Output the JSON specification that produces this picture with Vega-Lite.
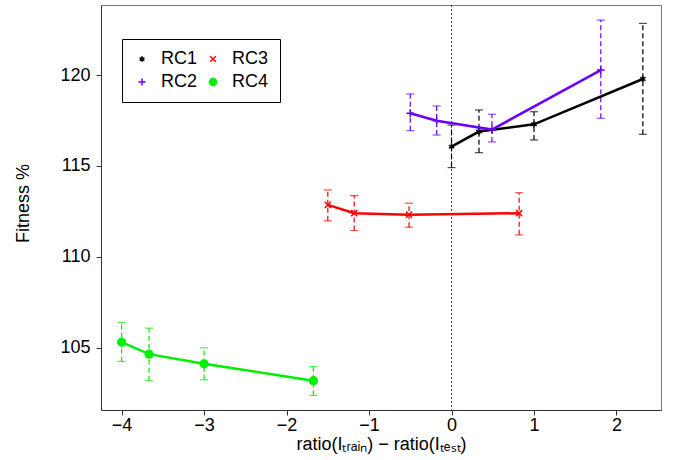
{
  "$schema": "https://vega.github.io/schema/vega-lite/v6.json",
  "width": 560,
  "height": 405,
  "autosize": {"type": "none"},
  "padding": {"left": 101, "top": 5, "right": 17, "bottom": 50},
  "background": "white",
  "config": {
    "font": "Liberation Sans",
    "view": {"stroke": "#777", "strokeWidth": 1},
    "axis": {"grid": false, "domainColor": "#333", "tickColor": "#333", "labelColor": "black", "titleColor": "black", "labelFont": "Liberation Sans", "titleFont": "Liberation Sans", "titleFontWeight": "normal"}
  },
  "resolve": {"legend": {"color": "independent", "shape": "independent", "fill": "independent"}},
  "datasets": {
    "pts": [
      {"series": "RC1", "x": 0.0, "y": 116.06, "lo": 114.91, "hi": 117.25},
      {"series": "RC1", "x": 0.333, "y": 116.89, "lo": 115.73, "hi": 118.08},
      {"series": "RC1", "x": 1.0, "y": 117.29, "lo": 116.43, "hi": 117.98},
      {"series": "RC1", "x": 2.32, "y": 119.78, "lo": 116.74, "hi": 122.84},
      {"series": "RC2", "x": -0.5, "y": 117.9, "lo": 116.94, "hi": 118.96},
      {"series": "RC2", "x": -0.18, "y": 117.49, "lo": 116.7, "hi": 118.3},
      {"series": "RC2", "x": 0.49, "y": 117.0, "lo": 116.32, "hi": 117.84},
      {"series": "RC2", "x": 1.81, "y": 120.27, "lo": 117.62, "hi": 123.02},
      {"series": "RC3", "x": -1.5, "y": 112.86, "lo": 111.98, "hi": 113.68},
      {"series": "RC3", "x": -1.18, "y": 112.4, "lo": 111.45, "hi": 113.37},
      {"series": "RC3", "x": -0.515, "y": 112.32, "lo": 111.63, "hi": 112.95},
      {"series": "RC3", "x": 0.82, "y": 112.4, "lo": 111.21, "hi": 113.53},
      {"series": "RC4", "x": -4.0, "y": 105.31, "lo": 104.25, "hi": 106.39},
      {"series": "RC4", "x": -3.667, "y": 104.65, "lo": 103.19, "hi": 106.08},
      {"series": "RC4", "x": -3.0, "y": 104.12, "lo": 103.24, "hi": 105.0},
      {"series": "RC4", "x": -1.675, "y": 103.19, "lo": 102.38, "hi": 103.97}
    ]
  },
  "layer": [
    {
      "data": {"values": [{"x": 0}]},
      "mark": {"type": "rule", "strokeDash": [2, 2], "color": "#444", "strokeWidth": 1},
      "encoding": {"x": {"field": "x", "type": "quantitative", "scale": {"domain": [-4.25, 2.54], "nice": false, "zero": false}}}
    },
    {
      "data": {"name": "pts"},
      "mark": {"type": "rule", "strokeDash": [5, 3], "strokeWidth": 1.2},
      "encoding": {
        "x": {"field": "x", "type": "quantitative"},
        "y": {"field": "lo", "type": "quantitative"},
        "y2": {"field": "hi"},
        "color": {"field": "series", "type": "nominal", "legend": null, "scale": {"domain": ["RC1", "RC2", "RC3", "RC4"], "range": ["black", "#6a00ff", "#ff0000", "#00ee00"]}}
      }
    },
    {
      "data": {"name": "pts"},
      "mark": {"type": "tick", "orient": "horizontal", "size": 8, "thickness": 1.2},
      "encoding": {
        "x": {"field": "x", "type": "quantitative"},
        "y": {"field": "lo", "type": "quantitative"},
        "color": {"field": "series", "type": "nominal", "legend": null, "scale": {"domain": ["RC1", "RC2", "RC3", "RC4"], "range": ["black", "#6a00ff", "#ff0000", "#00ee00"]}}
      }
    },
    {
      "data": {"name": "pts"},
      "mark": {"type": "tick", "orient": "horizontal", "size": 8, "thickness": 1.2},
      "encoding": {
        "x": {"field": "x", "type": "quantitative"},
        "y": {"field": "hi", "type": "quantitative"},
        "color": {"field": "series", "type": "nominal", "legend": null, "scale": {"domain": ["RC1", "RC2", "RC3", "RC4"], "range": ["black", "#6a00ff", "#ff0000", "#00ee00"]}}
      }
    },
    {
      "data": {"name": "pts"},
      "mark": {"type": "line", "strokeWidth": 2.5},
      "encoding": {
        "x": {"field": "x", "type": "quantitative"},
        "y": {"field": "y", "type": "quantitative"},
        "color": {"field": "series", "type": "nominal", "legend": null, "scale": {"domain": ["RC1", "RC2", "RC3", "RC4"], "range": ["black", "#6a00ff", "#ff0000", "#00ee00"]}},
        "detail": {"field": "series"}
      }
    },
    {
      "data": {"name": "pts"},
      "mark": {"type": "point", "filled": false, "strokeWidth": 1.5, "opacity": 1, "size": 60},
      "encoding": {
        "x": {
          "field": "x", "type": "quantitative",
          "scale": {"domain": [-4.25, 2.54], "nice": false, "zero": false},
          "axis": {"values": [-4, -3, -2, -1, 0, 1, 2], "format": "d", "labelFontSize": 18, "tickSize": 5, "labelPadding": 1, "title": "ratio(Iₜᵣₐᵢₙ) − ratio(Iₜₑₛₜ)", "titleFontSize": 18, "titleBaseline": "alphabetic", "titleY": 39, "labelExpr": "replace(datum.label, '-', '−')"}
        },
        "y": {
          "field": "y", "type": "quantitative",
          "scale": {"domain": [101.58, 123.85], "nice": false, "zero": false},
          "axis": {"values": [105, 110, 115, 120], "labelFontSize": 18, "tickSize": 5, "labelPadding": 6, "title": "Fitness %", "titleFontSize": 18, "titleAngle": -90, "titleBaseline": "alphabetic", "titleAlign": "center", "titleX": -73, "titleY": 198}
        },
        "color": {
          "field": "series", "type": "nominal",
          "scale": {"domain": ["RC1", "RC2", "RC3", "RC4"], "range": ["black", "#6a00ff", "#ff0000", "#00ee00"]},
          "legend": {"title": null, "orient": "none", "legendX": 21, "legendY": 34, "columns": 2, "columnPadding": 6, "rowPadding": 5, "padding": 11, "strokeColor": "black", "fillColor": "white", "labelFontSize": 18, "labelOffset": 10, "symbolStrokeWidth": 1.5, "symbolSize": 50, "labelFont": "Liberation Sans"}
        },
        "shape": {
          "field": "series", "type": "nominal",
          "scale": {"domain": ["RC1", "RC2", "RC3", "RC4"], "range": ["M0,-0.8L0,0.8M-0.7,-0.4L0.7,0.4M-0.7,0.4L0.7,-0.4", "M-1,0L1,0M0,-1L0,1", "M-0.8,-0.8L0.8,0.8M-0.8,0.8L0.8,-0.8", "circle"]}
        },
        "fill": {
          "field": "series", "type": "nominal",
          "scale": {"domain": ["RC1", "RC2", "RC3", "RC4"], "range": ["transparent", "transparent", "transparent", "#00ee00"]}
        }
      }
    }
  ]
}
